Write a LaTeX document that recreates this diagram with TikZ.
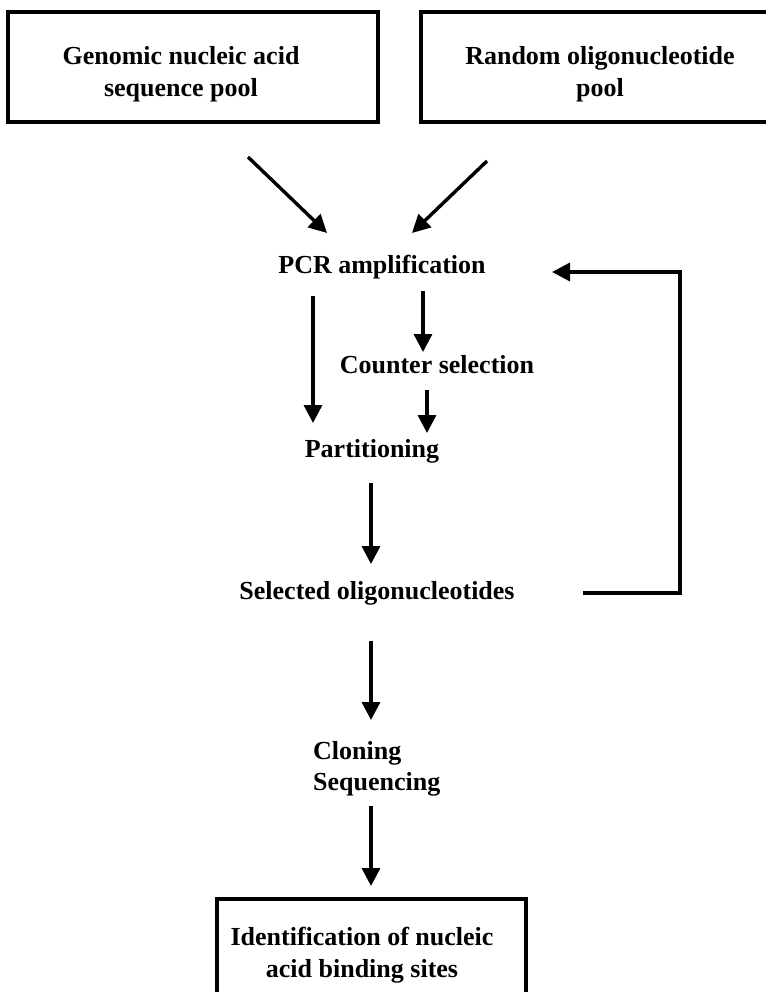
\documentclass[tikz,border=0pt]{standalone}
\usepackage{fontspec}
\setmainfont{Liberation Serif}
\usetikzlibrary{arrows.meta}
\begin{document}
\begin{tikzpicture}[x=1pt,y=-1pt,
  lbl/.style={font=\fontsize{26}{31.5}\selectfont\bfseries, inner sep=0pt, align=center},
  boxline/.style={line width=3.8pt, line join=miter},
  arr/.style={line width=3.4pt, -{Triangle[length=18pt,width=18pt]}},
  fb/.style={line width=3.4pt, line join=miter, -{Triangle[length=18pt,width=18pt]}}]
\useasboundingbox (0,0) rectangle (765,992);
% top boxes
\node[lbl] (gen) at (181,74) {Genomic nucleic acid\\sequence pool};
\draw[boxline] (8,12) rectangle (378,122);
\node[lbl] (rnd) at (600,74) {Random oligonucleotide\\pool};
\draw[boxline] (768,12) -- (421,12) -- (421,122) -- (768,122);
% text nodes
\node[lbl] (pcr) at (382,267) {PCR amplification};
\node[lbl] (cs) at (437,365) {Counter selection};
\node[lbl] (part) at (372,451) {Partitioning};
\node[lbl] (sel) at (377,593) {Selected oligonucleotides};
\node[lbl, align=left, anchor=west] (clon) at (313,769) {Cloning\\Sequencing};
\node[lbl] (ident) at (362,955) {Identification of nucleic\\acid binding sites};
\draw[boxline] (217,996) -- (217,899) -- (526,899) -- (526,996);
% connector ends
\coordinate (g0) at (248,157);
\coordinate (g1) at (327,233);
\coordinate (r0) at (487,161);
\coordinate (r1) at (412,233);
\coordinate (p0) at (313,296);
\coordinate (p1) at (313,423);
\coordinate (c0) at (423,291);
\coordinate (c1) at (423,352);
\coordinate (d0) at (427,390);
\coordinate (d1) at (427,433);
\coordinate (e0) at (371,483);
\coordinate (e1) at (371,564);
\coordinate (f0) at (583,593);
\coordinate (f1) at (680,593);
\coordinate (f2) at (680,272);
\coordinate (f3) at (552,272);
\coordinate (h0) at (371,641);
\coordinate (h1) at (371,720);
\coordinate (k0) at (371,806);
\coordinate (k1) at (371,886);
% connectors
\draw[arr] (g0) -- (g1);
\draw[arr] (r0) -- (r1);
\draw[arr] (p0) -- (p1);
\draw[arr] (c0) -- (c1);
\draw[arr] (d0) -- (d1);
\draw[arr] (e0) -- (e1);
\draw[fb] (f0) -- (f1) -- (f2) -- (f3);
\draw[arr] (h0) -- (h1);
\draw[arr] (k0) -- (k1);
\end{tikzpicture}
\end{document}
